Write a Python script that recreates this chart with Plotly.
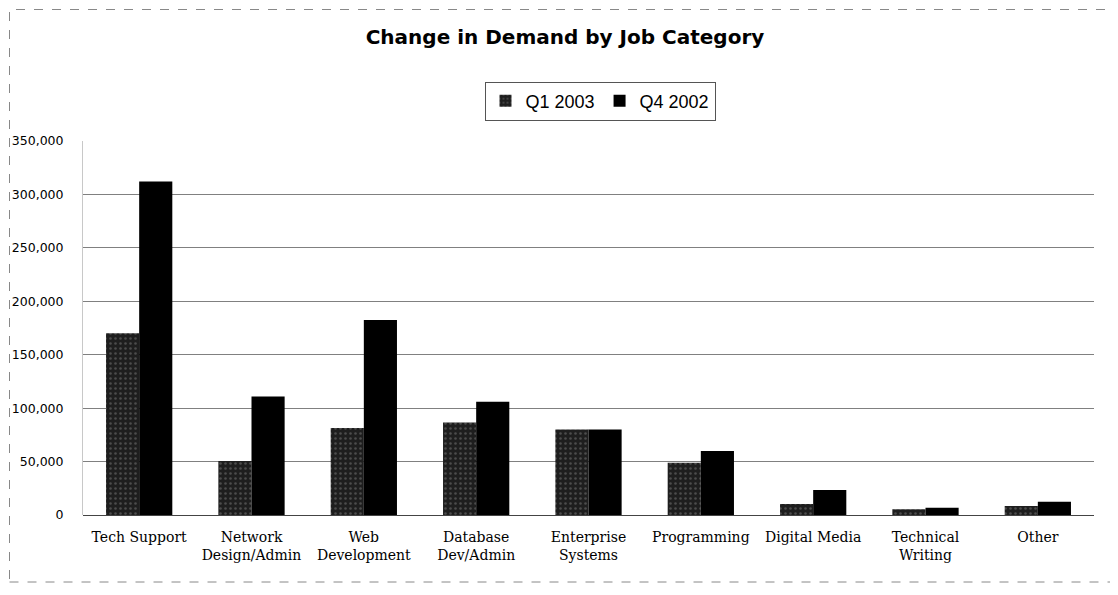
import plotly.graph_objects as go

categories = ["Tech Support", "Network<br>Design/Admin", "Web<br>Development", "Database<br>Dev/Admin",
              "Enterprise<br>Systems", "Programming", "Digital Media", "Technical<br>Writing", "Other"]
q1_2003 = [170000, 50500, 81500, 86500, 80000, 49000, 10300, 5300, 8400]
q4_2002 = [312000, 111000, 182500, 106000, 80000, 60000, 23400, 6800, 12500]
y_ticks = [0, 50000, 100000, 150000, 200000, 250000, 300000, 350000]
y_tick_labels = ["0", "50,000", "100,000", "150,000", "200,000", "250,000", "300,000", "350,000"]

W, H = 1110, 587
L, R, T, B = 75, 24, 133, 80
pw, ph = W - L - R, H - T - B

def px_x(x):  # window px -> paper x
    return (x - 8 - L) / pw

def px_y(y):  # window px -> paper y
    return (H - B - (y - 8)) / ph

fig = go.Figure()
fig.add_trace(go.Bar(
    name="Q1 2003", x=categories, y=q1_2003,
    marker=dict(color="#1e1e1e", line=dict(width=0),
                pattern=dict(shape=".", fgcolor="#7a7a7a", size=5, solidity=0.2)),
))
fig.add_trace(go.Bar(
    name="Q4 2002", x=categories, y=q4_2002,
    marker=dict(color="#000000", line=dict(width=0)),
))

fig.update_layout(
    width=W, height=H,
    margin=dict(l=L, r=R, t=T, b=B),
    paper_bgcolor="white", plot_bgcolor="white",
    barmode="group", bargap=0.41, bargroupgap=0,
    title=dict(text="<b>Change in Demand by Job Category</b>",
               x=px_x(565), xref="paper", xanchor="center",
               y=1 - 29 / H, yref="container", yanchor="middle",
               font=dict(family="DejaVu Sans, sans-serif", size=20, color="#000")),
    legend=dict(orientation="h", x=px_x(600), xanchor="center", y=px_y(101), yanchor="middle",
                bordercolor="#555", borderwidth=1, bgcolor="white",
                font=dict(family="Liberation Sans, Arial", size=18, color="#000"),
                itemwidth=30, tracegroupgap=0),
    showlegend=True,
    font=dict(family="DejaVu Serif, serif", size=13, color="#000"),
)
fig.update_yaxes(range=[0, 350000], tickvals=y_ticks, ticktext=y_tick_labels,
                 showgrid=True, gridcolor="#808080", gridwidth=1,
                 zeroline=True, zerolinecolor="#444", zerolinewidth=1,
                 showline=True, linecolor="#c8c8c8", linewidth=1,
                 ticks="", ticklabelstandoff=16, automargin=False,
                 tickfont=dict(family="DejaVu Sans, sans-serif", size=12.5, color="#000"))
fig.update_xaxes(showgrid=False, showline=False, ticks="", automargin=False,
                 ticklabelstandoff=12,
                 tickfont=dict(family="DejaVu Serif, serif", size=14, color="#000"))

# scanned chart frame
fig.add_shape(type="rect", xref="paper", yref="paper",
              x0=px_x(9.5), x1=px_x(1117), y0=px_y(582), y1=px_y(9.5),
              line=dict(color="#888", width=1, dash="dash"), layer="below")

fig.write_html("out.html")
